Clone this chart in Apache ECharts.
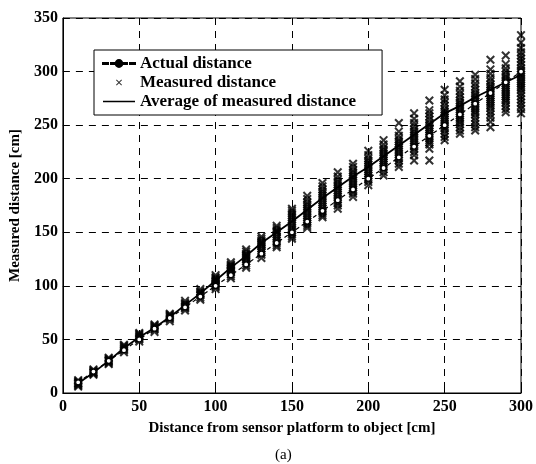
<!DOCTYPE html>
<html>
<head>
<meta charset="utf-8">
<script src="https://cdn.jsdelivr.net/npm/echarts@6/dist/echarts.min.js"></script>
<style>
  html, body { margin: 0; padding: 0; background: #fff; }
  #chart { width: 536px; height: 464px; }
</style>
</head>
<body>
<div id="chart"></div>
<script>
// distancias reales (cm)
var distancias = [10, 20, 30, 40, 50, 60, 70, 80, 90, 100, 110, 120, 130, 140, 150,
  160, 170, 180, 190, 200, 210, 220, 230, 240, 250, 260, 270, 280, 290, 300];

// promedio de lo medido en cada distancia
var promedio = [9, 19, 30, 42, 52, 61, 71, 82, 93, 105, 117, 128, 140, 150, 160,
  171, 182, 192, 202, 211, 221, 231, 241, 251, 261, 268, 276, 283, 290, 297];

var medidas = [
  [6, 7, 8, 9, 9, 10, 11, 12],
  [17, 18, 19, 19, 20, 21, 22],
  [27, 28, 29, 30, 30, 31, 32, 33],
  [38, 40, 41, 42, 43, 44, 45],
  [48, 50, 51, 52, 53, 54, 55, 56],
  [57, 59, 60, 61, 62, 63, 64],
  [67, 69, 70, 71, 72, 73, 74],
  [77, 79, 80, 81, 82, 83, 84, 86],
  [87, 89, 91, 92, 93, 94, 95, 97],
  [97, 99, 100, 101, 102, 103, 104, 105, 106, 107, 108, 110],
  [107, 109, 111, 113, 114, 115, 116, 117, 118, 119, 120, 122],
  [117, 119, 121, 123, 125, 126, 127, 128, 129, 130, 132, 134],
  [126, 129, 131, 133, 135, 137, 138, 139, 140, 141, 142, 144, 146],
  [136, 138, 140, 142, 144, 146, 148, 150, 151, 152, 154, 156],
  [144, 146, 148, 150, 152, 154, 156, 158, 160, 162, 164, 166, 168, 170, 172],
  [154, 156, 158, 160, 162, 164, 166, 168, 170, 172, 174, 176, 178, 181, 184],
  [164, 166, 168, 170, 172, 174, 176, 178, 180, 182, 184, 186, 188, 190, 193, 196],
  [172, 175, 177, 179, 181, 183, 185, 187, 189, 191, 193, 195, 197, 199, 202, 206],
  [183, 186, 188, 190, 192, 194, 196, 198, 200, 202, 204, 206, 208, 211, 214],
  [194, 197, 199, 201, 203, 205, 207, 209, 211, 213, 215, 217, 219, 222, 226],
  [203, 206, 209, 211, 213, 215, 217, 219, 221, 223, 225, 227, 229, 232, 236],
  [211, 214, 217, 219, 221, 223, 225, 227, 229, 231, 233, 235, 237, 240, 244, 252],
  [217, 222, 225, 228, 230, 232, 234, 236, 238, 240, 242, 244, 246, 249, 252, 256, 261],
  [217, 228, 232, 234, 236, 238, 240, 242, 244, 246, 248, 250, 252, 255, 258, 261, 264, 273],
  [236, 239, 242, 245, 247, 249, 251, 253, 255, 257, 259, 261, 263, 265, 268, 271, 274, 278, 283],
  [242, 245, 248, 251, 253, 255, 257, 259, 261, 263, 265, 267, 269, 271, 273, 276, 279, 282, 286, 291],
  [245, 248, 251, 254, 257, 260, 262, 264, 266, 268, 270, 272, 274, 276, 278, 280, 283, 286, 289, 293, 297],
  [248, 253, 257, 260, 263, 266, 268, 270, 272, 274, 276, 278, 280, 282, 284, 286, 288, 291, 294, 298, 302, 311],
  [262, 265, 268, 271, 273, 275, 277, 279, 281, 283, 285, 287, 289, 291, 293, 295, 297, 300, 303, 307, 315],
  [261, 265, 268, 271, 274, 277, 280, 283, 285, 287, 289, 291, 293, 295, 297, 299, 301, 303, 306, 309, 312, 315, 318, 322, 327, 334]
];

var fuente = 'Liberation Serif';

// pares [x, y] para la serie de medidas
var puntosMedidos = [];
medidas.forEach(function (lista, i) {
  lista.forEach(function (v) {
    puntosMedidos.push([distancias[i], v]);
  });
});

var puntosReales = distancias.map(function (d) { return [d, d]; });
var puntosPromedio = distancias.map(function (d, i) { return [d, promedio[i]]; });

// marca en forma de x (brazos algo gruesos)
var marcaX = 'path://M0,1.6L1.6,0L5,3.4L8.4,0L10,1.6L6.6,5L10,8.4L8.4,10L5,6.6L1.6,10L0,8.4L3.4,5Z';

// iconos de la leyenda (caja de 32x14, las esquinas fijan el tamaño)
var esquinas = 'M0,0L0,0Z M32,14L32,14Z ';
var iconoReal = 'path://' + esquinas +
  'M0,6.4H5V7.6H0Z M8,6.4H12V7.6H8Z M20,6.4H24V7.6H20Z M27,6.4H32V7.6H27Z ' +
  'M12.6,7A3.4,3.4,0,1,0,19.4,7A3.4,3.4,0,1,0,12.6,7Z';
var iconoMedido = 'path://' + esquinas +
  'M13,4.7L13.7,4L16,6.3L18.3,4L19,4.7L16.7,7L19,9.3L18.3,10L16,7.7L13.7,10L13,9.3L15.3,7Z';
var iconoPromedio = 'path://' + esquinas + 'M0,6.2H32V7.8H0Z';

var chart = echarts.init(document.getElementById('chart'));

var option = {
  backgroundColor: '#fff',
  animation: false,
  grid: {
    left: 60, right: 14, top: 18, bottom: 71,
    show: true, borderColor: '#000', borderWidth: 1
  },
  legend: {
    left: 94, top: 50,
    orient: 'vertical',
    padding: [5, 26, 5, 8],
    itemGap: 2,
    itemWidth: 32, itemHeight: 14,
    backgroundColor: '#fff',
    borderColor: '#000', borderWidth: 1,
    textStyle: { fontFamily: fuente, fontWeight: 'bold', fontSize: 17, color: '#000' },
    data: [
      { name: 'Actual distance', icon: iconoReal, itemStyle: { color: '#000' } },
      { name: 'Measured distance', icon: iconoMedido, itemStyle: { color: '#000' } },
      { name: 'Average of measured distance', icon: iconoPromedio, itemStyle: { color: '#000' } }
    ]
  },
  xAxis: {
    type: 'value',
    min: 0, max: 300, interval: 50,
    name: 'Distance from sensor platform to object [cm]',
    nameLocation: 'middle', nameGap: 28,
    nameTextStyle: { fontFamily: fuente, fontWeight: 'bold', fontSize: 15, color: '#000' },
    axisLine: { show: true, lineStyle: { color: '#000' } },
    axisTick: { show: true, inside: true, length: 4, lineStyle: { color: '#000' } },
    axisLabel: { fontFamily: fuente, fontWeight: 'bold', fontSize: 16, color: '#000', margin: 6 },
    splitLine: { show: true, lineStyle: { color: '#000', type: [7, 6], width: 1 } }
  },
  yAxis: {
    type: 'value',
    min: 0, max: 350, interval: 50,
    name: 'Measured distance [cm]',
    nameLocation: 'middle', nameGap: 33,
    nameTextStyle: { fontFamily: fuente, fontWeight: 'bold', fontSize: 15, color: '#000' },
    axisLine: { show: true, lineStyle: { color: '#000' } },
    axisTick: { show: true, inside: true, length: 4, lineStyle: { color: '#000' } },
    axisLabel: { fontFamily: fuente, fontWeight: 'bold', fontSize: 16, color: '#000', margin: 5 },
    splitLine: { show: true, lineStyle: { color: '#000', type: [7, 6], width: 1 } }
  },
  graphic: [
    {
      type: 'text', left: 275, top: 448,
      style: { text: '(a)', font: '15px "Liberation Serif"', fill: '#000' }
    }
  ],
  series: [
    {
      name: 'Measured distance',
      type: 'scatter',
      symbol: marcaX,
      symbolSize: 9,
      itemStyle: { color: '#000' },
      data: puntosMedidos,
      z: 2
    },
    {
      name: 'Average of measured distance',
      type: 'line',
      showSymbol: false,
      symbol: 'none',
      itemStyle: { color: '#000' },
      lineStyle: { color: '#000', width: 1.8 },
      data: puntosPromedio,
      z: 3
    },
    {
      name: 'Actual distance',
      type: 'line',
      symbol: 'circle',
      symbolSize: 5,
      itemStyle: { color: '#fff', borderColor: '#000', borderWidth: 1.2 },
      lineStyle: { color: '#000', type: [4, 3], width: 1.2 },
      data: puntosReales,
      z: 4
    }
  ]
};

chart.setOption(option);
</script>
</body>
</html>
